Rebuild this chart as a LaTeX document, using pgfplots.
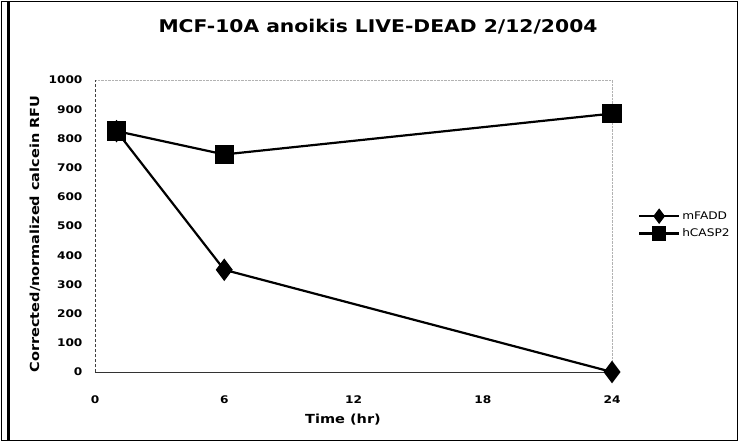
\documentclass[border=0pt]{standalone}
\usepackage{pgfplots}
\pgfplotsset{compat=1.18}
\usepackage{fontspec}
\setmainfont{DejaVu Sans}[FakeStretch=1.16]
\begin{document}
\begin{tikzpicture}[x=1pt,y=1pt]
\useasboundingbox (0,0) rectangle (739,442);
\draw[line width=1.0pt] (1,1.5) rectangle (737.5,440.5);
\draw[line width=3pt] (8.5,1) -- (8.5,441);
\node[font=\fontsize{17.5}{20}\selectfont\bfseries] at (378,415) {MCF-10A anoikis LIVE-DEAD 2/12/2004};
\node[font=\fontsize{12.5}{14}\selectfont\bfseries, rotate=90] at (35,208) {Corrected/normalized calcein RFU};
\node[font=\fontsize{12.5}{14}\selectfont\bfseries] at (343,22) {Time (hr)};
\begin{axis}[
  at={(95pt,70pt)}, anchor=south west,
  scale only axis, width=517pt, height=292pt,
  xmin=0, xmax=24, ymin=0, ymax=1000,
  xtick={0,6,12,18,24}, ytick={0,100,...,1000},
  axis line style={draw=none},
  tick style={draw=none},
  ticklabel style={font=\fontsize{10.5}{12}\selectfont\bfseries},
  /pgf/number format/assume math mode=true,
  /pgf/number format/1000 sep={},
  xticklabel style={anchor=center, yshift=-28pt},
  yticklabel style={anchor=east, xshift=-9pt},
  clip=false,
  legend style={at={(1.05,0.557)}, anchor=north west, draw=none, fill=none,
    font=\fontsize{10.5}{12}\selectfont, row sep=4pt, inner sep=0pt},
  legend cell align=left,
  legend image code/.code={
    \draw[#1, mark=none] (0pt,0pt) -- (40pt,0pt);
    \draw[#1, mark size=6pt] plot coordinates {(20pt,0pt)};
  },
]
\draw[gray!60, densely dotted] (axis cs:0,1000) -- (axis cs:24,1000) -- (axis cs:24,0);
\draw[black!75, densely dashed, line width=0.6pt] (axis cs:0,0) -- (axis cs:0,1000);
\draw[black!80, line width=0.8pt] (axis cs:0,0) -- (axis cs:24,0);
\addplot[black, line width=2.2pt, mark=diamond*, mark size=9.5pt, mark options={solid}] coordinates {(1,825) (6,350) (24,0)};
\addlegendentry{mFADD}
\addplot[black, line width=2.2pt, mark=square*, mark size=8.5pt, mark options={solid}] coordinates {(1,825) (6,745) (24,885)};
\addlegendentry{hCASP2}
\end{axis}
\end{tikzpicture}
\end{document}
